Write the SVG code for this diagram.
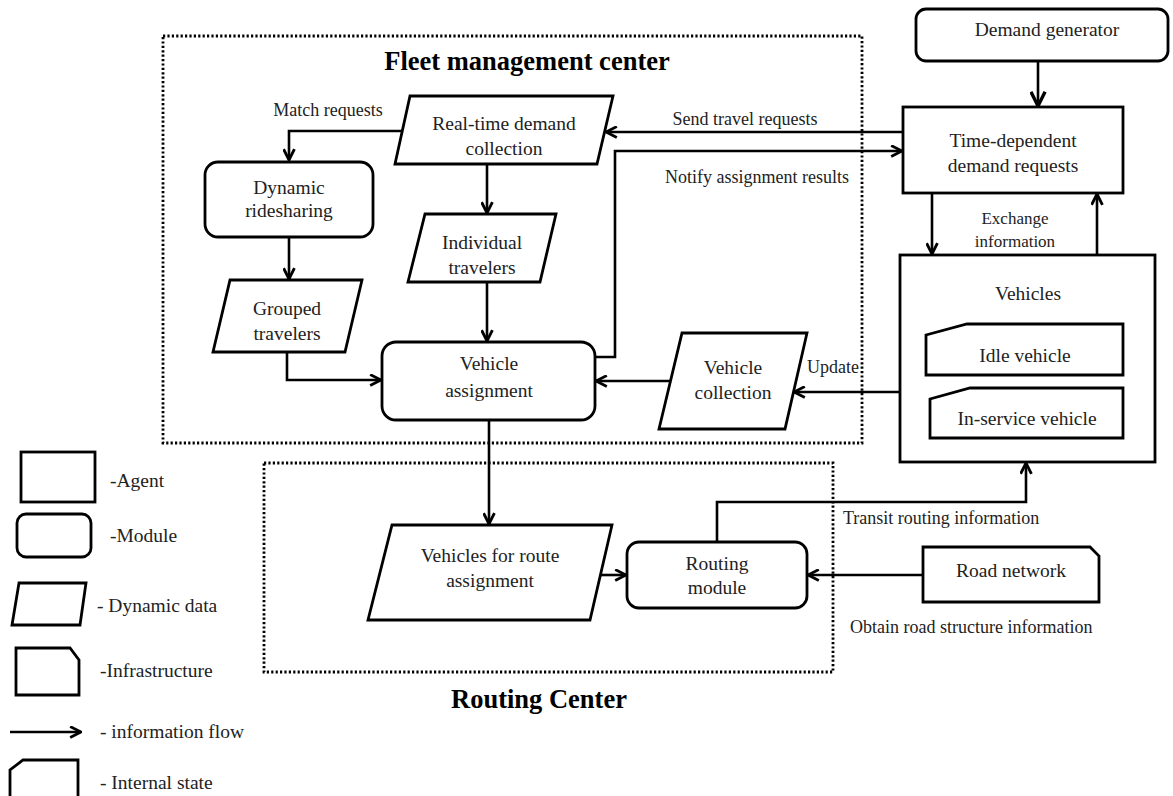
<svg xmlns="http://www.w3.org/2000/svg" width="1173" height="796" viewBox="0 0 1173 796">
<defs>
<marker id="arr" viewBox="0 0 12 12" refX="11" refY="6" markerWidth="13" markerHeight="13" orient="auto" markerUnits="userSpaceOnUse">
<path d="M1,1 L11,6 L1,11" fill="none" stroke="#000" stroke-width="2.6"/>
</marker>
<marker id="arrB" viewBox="0 0 12 12" refX="11" refY="6" markerWidth="17" markerHeight="17" orient="auto" markerUnits="userSpaceOnUse">
<path d="M1,1 L11,6 L1,11" fill="none" stroke="#000" stroke-width="2.4"/>
</marker>
<style>
.s{fill:#fff;stroke:#000;stroke-width:2.8}
.d{fill:none;stroke:#000;stroke-width:2.8;stroke-dasharray:2.2 2.2}
.c{fill:none;stroke:#000;stroke-width:2.6}
text{font-family:"Liberation Serif","Times New Roman",serif;font-size:18px;fill:#222}
.m{text-anchor:middle}
.t{font-weight:bold;font-size:26.5px;fill:#000}
.l{font-size:19.5px}
</style>
</defs>
<rect width="1173" height="796" fill="#fff"/>

<g id="fleet-center">
<rect class="d" x="163" y="36" width="699" height="407"/>
<text class="t m" x="527" y="70">Fleet management center</text>
</g>
<g id="routing-center">
<rect class="d" x="264" y="463" width="569" height="209"/>
<text class="t m" x="539" y="708">Routing Center</text>
</g>

<g id="connectors">
<path class="c" d="M402,131 H289 V160" marker-end="url(#arr)"/>
<path class="c" d="M289,237 V279" marker-end="url(#arr)"/>
<path class="c" d="M287,352 V380 H381" marker-end="url(#arr)"/>
<path class="c" d="M487,164 V213" marker-end="url(#arr)"/>
<path class="c" d="M487,282 V341" marker-end="url(#arr)"/>
<path class="c" d="M595,357 H615 V151 H902" marker-end="url(#arr)"/>
<path class="c" d="M903,132 H606" marker-end="url(#arr)"/>
<path class="c" d="M670,381 H596" marker-end="url(#arr)"/>
<path class="c" d="M900,392 H794" marker-end="url(#arr)"/>
<path class="c" d="M1038,61 V106" stroke-width="3.6" marker-end="url(#arrB)"/>
<path class="c" d="M932,193 V254" marker-end="url(#arr)"/>
<path class="c" d="M1097,255 V194" marker-end="url(#arr)"/>
<path class="c" d="M489,420 V524" marker-end="url(#arr)"/>
<path class="c" d="M600,575 H626" marker-end="url(#arr)"/>
<path class="c" d="M717,542 V502 H1026 V463" marker-end="url(#arr)"/>
<path class="c" d="M923,575 H808" marker-end="url(#arr)"/>
<text class="m" x="328" y="116">Match requests</text>
<text class="m" x="745" y="125">Send travel requests</text>
<text class="m" x="757" y="183">Notify assignment results</text>
<text class="m" x="1015" y="224" style="font-size:17px">Exchange</text>
<text class="m" x="1015" y="247" style="font-size:17px">information</text>
<text x="807" y="373">Update</text>
<text x="843" y="524">Transit routing information</text>
<text x="850" y="633">Obtain road structure information</text>
</g>

<g id="real-time-demand">
<polygon class="s" points="410,96 613,96 597,164 395,164"/>
<text class="m l" x="504" y="130">Real-time demand</text>
<text class="m l" x="504" y="155">collection</text>
</g>
<g id="dynamic-ridesharing">
<rect class="s" x="205" y="162" width="168" height="75" rx="13"/>
<text class="m l" x="289" y="194">Dynamic</text>
<text class="m l" x="289" y="217">ridesharing</text>
</g>
<g id="grouped-travelers">
<polygon class="s" points="230,280 362,280 345,352 213,352"/>
<text class="m l" x="287" y="315">Grouped</text>
<text class="m l" x="287" y="340">travelers</text>
</g>
<g id="individual-travelers">
<polygon class="s" points="425,214 556,214 540,282 408,282"/>
<text class="m l" x="482" y="249">Individual</text>
<text class="m l" x="482" y="274">travelers</text>
</g>
<g id="vehicle-assignment">
<rect class="s" x="382" y="342" width="213" height="78" rx="14"/>
<text class="m l" x="489" y="370">Vehicle</text>
<text class="m l" x="489" y="397">assignment</text>
</g>
<g id="vehicle-collection">
<polygon class="s" points="682,333 807,333 785,429 659,429"/>
<text class="m l" x="733" y="374">Vehicle</text>
<text class="m l" x="733" y="399">collection</text>
</g>
<g id="demand-generator">
<rect class="s" x="916" y="9" width="252" height="52" rx="10"/>
<text class="m l" x="1047" y="36">Demand generator</text>
</g>
<g id="time-dependent-demand">
<rect class="s" x="903" y="107" width="220" height="86"/>
<text class="m l" x="1013" y="147">Time-dependent</text>
<text class="m l" x="1013" y="172">demand requests</text>
</g>
<g id="vehicles">
<rect class="s" x="900" y="255" width="255" height="207"/>
<text class="m l" x="1028" y="300">Vehicles</text>
</g>
<g id="idle-vehicle">
<polygon class="s" points="967,324 1123,324 1123,375 926,375 926,335"/>
<text class="m l" x="1025" y="362">Idle vehicle</text>
</g>
<g id="in-service-vehicle">
<polygon class="s" points="970,388 1123,388 1123,438 930,438 930,399"/>
<text class="m l" x="1027" y="425">In-service vehicle</text>
</g>
<g id="vehicles-route-assignment">
<polygon class="s" points="392,525 612,525 590,620 368,620"/>
<text class="m l" x="490" y="562">Vehicles for route</text>
<text class="m l" x="490" y="587">assignment</text>
</g>
<g id="routing-module">
<rect class="s" x="627" y="542" width="180" height="66" rx="12"/>
<text class="m l" x="717" y="570">Routing</text>
<text class="m l" x="717" y="594">module</text>
</g>
<g id="road-network">
<polygon class="s" points="923,547 1090,547 1099,556 1099,602 923,602"/>
<text class="m l" x="1011" y="577">Road network</text>
</g>

<g id="legend">
<rect class="s" x="21" y="452" width="74" height="50"/>
<text class="l" x="110" y="487">-Agent</text>
<rect class="s" x="17" y="514" width="74" height="43" rx="9"/>
<text class="l" x="110" y="542">-Module</text>
<polygon class="s" points="19,583 86,583 80,625 12,625"/>
<text class="l" x="97" y="612">- Dynamic data</text>
<polygon class="s" points="16,648 70,648 79,660 79,695 16,695"/>
<text class="l" x="100" y="677">-Infrastructure</text>
<path class="c" d="M10,732 H81" marker-end="url(#arr)"/>
<text class="l" x="100" y="738">- information flow</text>
<polygon class="s" points="23,760 78,760 78,800 10,800 10,770"/>
<text class="l" x="100" y="789">- Internal state</text>
</g>
</svg>
